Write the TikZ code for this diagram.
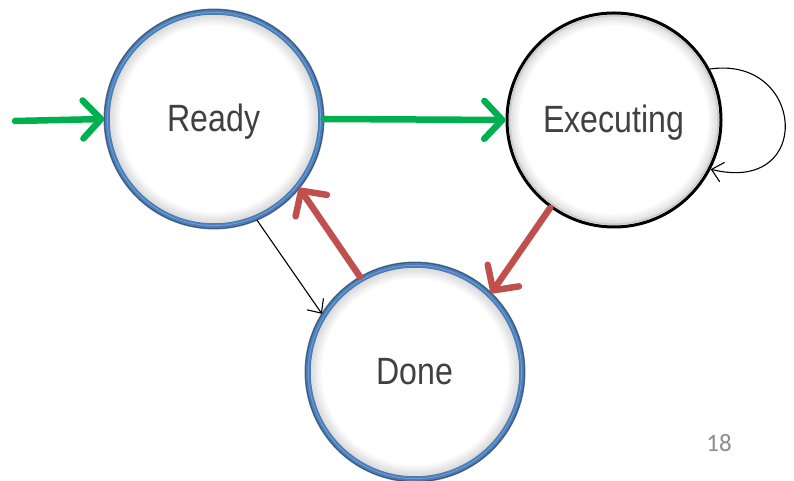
\documentclass[tikz,border=0pt]{standalone}
\usepackage{graphicx}
\usepackage{fontspec}
\setmainfont{Liberation Sans}
\newfontfamily\numfont{Carlito}
\usetikzlibrary{arrows.meta}

\definecolor{ringblue}{HTML}{4A7EBB}
\definecolor{ringdark}{HTML}{1F3A5C}
\definecolor{okgreen}{HTML}{00B050}
\definecolor{backred}{HTML}{C0504D}
\definecolor{labelgray}{HTML}{404040}

\tikzset{
  state/.style={circle, minimum size=214pt, inner sep=0pt, fill=white,
    text=labelgray, font=\fontsize{38}{40}\selectfont,
    text height=34pt, text depth=8pt},
  bluestate/.style={state, draw=ringblue, line width=5.5pt},
  blackstate/.style={state, draw=black, line width=3pt},
  glow/.style={draw=black, line width=1.3pt},
  fat arrow/.style={line width=6.5pt, line cap=round,
    -{Straight Barb[length=18pt,width=38pt,round]}},
  go/.style={fat arrow, draw=okgreen},
  back/.style={fat arrow, draw=backred},
  thin arrow/.style={line width=1.1pt, draw=black,
    -{Straight Barb[length=11pt,width=20pt]}},
  pagenum/.style={text=black!45, font=\numfont\fontsize{25}{25}\selectfont}
}

\newcommand{\statelabel}[1]{\scalebox{0.845}[1]{#1}}

\begin{document}
\begin{tikzpicture}[x=1pt,y=1pt]
  \useasboundingbox (0,0) rectangle (794,481);

  % states
  \node[bluestate]  (rd) at (214,362) {\statelabel{Ready}};
  \node[blackstate] (ex) at (614,361) {\statelabel{Executing}};
  \node[bluestate]  (dn) at (415,109) {\statelabel{Done}};

  % soft grey glow just inside each rim
  \foreach \n/\r in {rd/103.6,dn/103.6,ex/104.6}{
    \foreach \k in {0,...,9}{
      \draw[glow, opacity={0.11-0.011*\k}] (\n.center) circle ({\r-1.1*\k});
    }
  }

  % rim bevels
  \foreach \n in {rd,dn}{
    \draw[ringdark, line width=1.3pt, opacity=0.7] (\n.center) circle (109.8pt);
    \draw[white, line width=0.8pt, opacity=0.25] (\n.center) circle (106.6pt);
  }
  \draw[black!20, line width=1.6pt] (ex.center) circle (104.2pt);

  % entry point
  \coordinate (start) at (15,360);

  % transitions
  \draw[go] (start) -- (rd.west);
  \draw[go] (rd.east) -- (ex.west);
  \draw[thin arrow] (ex.28) .. controls (805,426) and (815,286) .. (ex.-27);
  \draw[thin arrow] (rd.-67) -- (dn.148);
  \draw[back] (dn.120) -- (rd.-39);
  \draw[back] (ex.-126) -- (dn.46);

  % page number
  \node[pagenum] (pg) at (719,38) {18};
\end{tikzpicture}
\end{document}
